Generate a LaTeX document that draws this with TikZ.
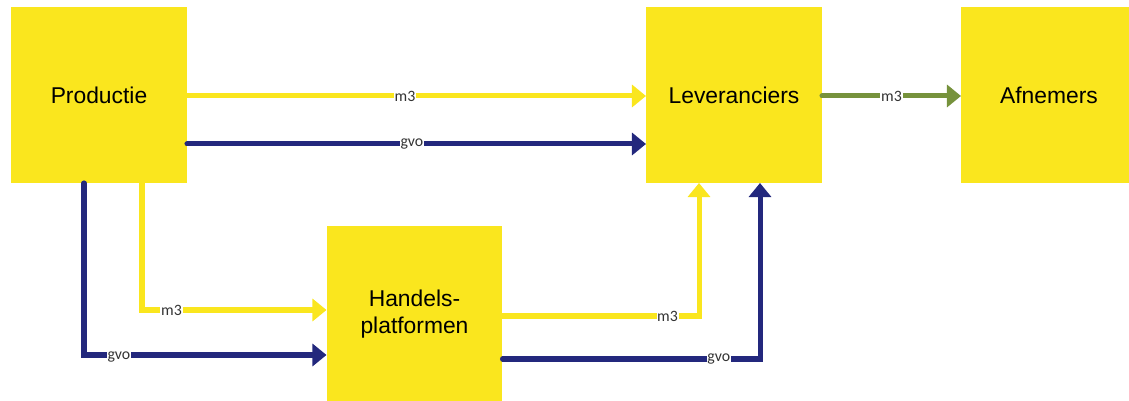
\documentclass[tikz,border=0pt]{standalone}
\usepackage{fontspec}
\setmainfont{Liberation Sans}
\newfontfamily\labelfont{Carlito}
\usepackage{tikz}
\usetikzlibrary{arrows.meta,calc}
\definecolor{boxyellow}{RGB}{250,230,30}
\definecolor{gvoblue}{RGB}{35,40,125}
\definecolor{levgreen}{RGB}{118,146,60}
\newcommand*\boxsize{3.52cm}
\newcommand*\flowwidth{2.85pt}
\tikzset{
    actor/.style   = {fill=boxyellow, minimum size=\boxsize,
                    inner sep=0pt, outer sep=0pt, align=center,
                    font=\fontsize{13}{15.6}\selectfont},
    flow/.style    = {line width=\flowwidth, line cap=round,
                    -{Triangle[length=8pt,width=12.5pt]}},
    m3flow/.style  = {flow, draw=boxyellow},
    gvoflow/.style = {flow, draw=gvoblue},
    salesflow/.style = {flow, draw=levgreen},
    flowlabel/.style = {font=\labelfont\fontsize{9}{10}\selectfont,
                    text=black!80, fill=white, inner sep=0.4pt},
  }

\begin{document}
\begin{tikzpicture}[x=0.02cm,y=-0.02cm]
    \useasboundingbox (0,0) rectangle (1129,401);

    % the four parties
    \node[actor] (prod)   at (99,95)    {Productie};
    \node[actor] (lev)    at (734,95)   {Leveranciers};
    \node[actor] (afn)    at (1049,95)  {Afnemers};
    \node[actor] (handel) at (414.5,314) {Handels-\\platformen};

    % direct flows from production to suppliers
    \draw[m3flow] ($(prod.east)+(0,1)$) -- ($(lev.west)+(0,1)$)
        node[flowlabel, pos=0.475] {m3};
    \draw[gvoflow] ($(prod.east)+(0,49)$) -- ($(lev.west)+(0,49)$)
        node[flowlabel, pos=0.49] {gvo};

    % suppliers to customers
    \draw[salesflow] ($(lev.east)+(0,1)$) -- ($(afn.west)+(0,1)$)
        node[flowlabel, pos=0.5] {m3};

    % production to trading platforms
    \draw[m3flow] ($(prod.south)+(43,0)$) |- ($(handel.west)+(0,-4)$)
        node[flowlabel, pos=0.58] {m3};
    \draw[gvoflow] ($(prod.south)+(-15,0)$) |- ($(handel.west)+(0,41)$)
        node[flowlabel, pos=0.572, yshift=-1pt] {gvo};

    % trading platforms to suppliers
    \draw[m3flow] ($(handel.east)+(0,2)$) -| ($(lev.south)+(-35,0)$)
        node[flowlabel, pos=0.42] {m3};
    \draw[gvoflow] ($(handel.east)+(0,45)$) -| ($(lev.south)+(26,0)$)
        node[flowlabel, pos=0.42] {gvo};
\end{tikzpicture}
\end{document}
